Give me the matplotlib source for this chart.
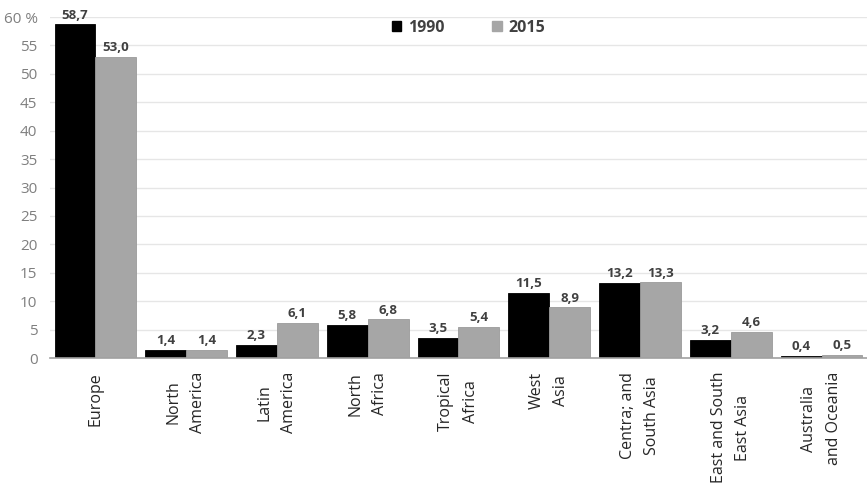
import matplotlib
matplotlib.use("Agg")
import matplotlib.pyplot as plt
import numpy as np
from matplotlib.patches import Patch

regions = ["Europe", "North\nAmerica", "Latin\nAmerica", "North\nAfrica",
           "Tropical\nAfrica", "West\nAsia", "Centra; and\nSouth Asia",
           "East and South\nEast Asia", "Australia\nand Oceania"]
share_1990 = [58.7, 1.4, 2.3, 5.8, 3.5, 11.5, 13.2, 3.2, 0.4]
share_2015 = [53.0, 1.4, 6.1, 6.8, 5.4, 8.9, 13.3, 4.6, 0.5]
yticks = list(range(0, 61, 5))
ytick_labels = [str(v) for v in yticks[:-1]] + ["60 %"]

plt.rcParams["font.family"] = ["Open Sans", "DejaVu Sans"]

fig = plt.figure(figsize=(8.67, 4.93), dpi=100)
ax = fig.add_axes([50 / 867, 135 / 493, 817 / 867, 341 / 493])

x = np.arange(len(regions))
w = 0.45
b1 = ax.bar(x - w / 2, share_1990, w, color="black", edgecolor="black", lw=0.6)
b2 = ax.bar(x + w / 2, share_2015, w, color="#a6a6a6", edgecolor="#9a9a9a", lw=0.6)

for bars, vals in ((b1, share_1990), (b2, share_2015)):
    for r, v in zip(bars, vals):
        ax.text(r.get_x() + r.get_width() / 2, v + 0.5, f"{v:.1f}".replace(".", ","),
                ha="center", va="bottom", fontsize=9.5, fontweight="bold",
                color="#404040", clip_on=False)

ax.set_xlim(-0.5, len(regions) - 0.5)
ax.set_ylim(0, 60)
ax.set_yticks(yticks)
ax.set_yticklabels(ytick_labels, fontsize=11, color="#7f7f7f")
ax.tick_params(axis="y", length=0, pad=9)
ax.set_xticks(x)
ax.set_xticklabels(regions, rotation=90, fontsize=11.5, color="#262626",
                   va="top", ha="center", multialignment="center", linespacing=1.7)
ax.tick_params(axis="x", length=0, pad=10)

ax.grid(axis="y", color="#e6e6e6", lw=1.0)
ax.set_axisbelow(True)
for s in ("top", "right", "left"):
    ax.spines[s].set_visible(False)
ax.spines["bottom"].set_color("#a0a0a0")
ax.spines["bottom"].set_linewidth(1.2)

handles = [Patch(facecolor="black", edgecolor="black"),
           Patch(facecolor="#a6a6a6", edgecolor="#a6a6a6")]
leg = ax.legend(handles, ["1990", "2015"], loc="center", bbox_to_anchor=(0.512, 0.968),
                ncol=2, frameon=False, handlelength=0.6, handleheight=0.6,
                columnspacing=3.0, handletextpad=0.4,
                prop={"size": 11.5, "weight": "bold"})
for t in leg.get_texts():
    t.set_color("#404040")

fig.savefig("out.png", dpi=100)
